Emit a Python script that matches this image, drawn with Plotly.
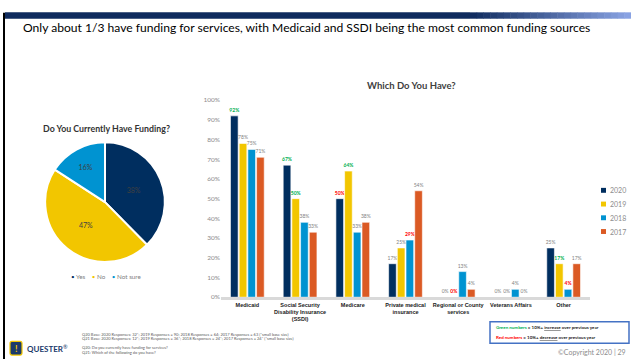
import plotly.graph_objects as go

# ---- data -------------------------------------------------------------
pie_labels = ["Yes", "No", "Not sure"]
pie_values = [38, 47, 16]

categories = [
    "Medicaid",
    "Social Security<br>Disability Insurance<br>(SSDI)",
    "Medicare",
    "Private medical<br>insurance",
    "Regional or County<br>services",
    "Veterans Affairs",
    "Other",
]
years = ["2020", "2019", "2018", "2017"]
v2020 = [92, 67, 50, 17, 0, 0, 25]
v2019 = [78, 50, 64, 25, 0, 0, 17]
v2018 = [75, 38, 33, 29, 13, 4, 4]
v2017 = [71, 33, 38, 54, 4, 0, 17]
# label flags: "g" = 10%+ increase, "r" = 10%+ decrease, "" = plain
f2020 = ["g", "g", "r", "", "", "", ""]
f2019 = ["", "g", "g", "", "r", "", "g"]
f2018 = ["", "", "", "r", "", "", "r"]
f2017 = ["", "", "", "", "", "", ""]

y_ticks = list(range(0, 101, 10))

# ---- styling ----------------------------------------------------------
W, H = 631, 362
NAVY, YELLOW, BLUE, ORANGE = "#002E5F", "#F2C600", "#0093D1", "#DB5A24"
GRAY = "#7F7F7F"
FLAG_COLORS = {"g": "#00B050", "r": "#FF0000", "": GRAY}
FONT = "Lato, Liberation Sans, sans-serif"


def px(x):
    return x / W


def py(y):
    return 1 - y / H


def note(x, y, text, size, color, anchor="center", **extra):
    """Paper-positioned text given in pixel coordinates."""
    return dict(x=px(x), y=py(y), xref="paper", yref="paper",
                xanchor=anchor, yanchor="middle", showarrow=False,
                text=text, font=dict(size=size, color=color, family=FONT), **extra)


fig = go.Figure()

# pie: do you currently have funding?
fig.add_trace(go.Pie(
    labels=pie_labels,
    values=pie_values,
    text=[f"{v}%" for v in pie_values],
    textinfo="text",
    sort=False,
    direction="clockwise",
    rotation=0,
    marker=dict(colors=[NAVY, YELLOW, BLUE], line=dict(color="white", width=2)),
    textfont=dict(size=7, color="#404040", family=FONT),
    insidetextorientation="horizontal",
    domain=dict(x=[px(44), px(166)], y=[py(263), py(141)]),
    showlegend=False,
    hoverinfo="label+percent",
))

# grouped bars: which do you have?
series = [
    (years[0], v2020, f2020, NAVY),
    (years[1], v2019, f2019, YELLOW),
    (years[2], v2018, f2018, BLUE),
    (years[3], v2017, f2017, ORANGE),
]
for name, vals, flags, color in series:
    fig.add_trace(go.Bar(
        x=categories,
        y=vals,
        name=name,
        marker=dict(color=color, line=dict(color="white", width=0.6)),
        text=[f"<b>{v}%</b>" if f else f"{v}%" for v, f in zip(vals, flags)],
        textposition="outside",
        textfont=dict(size=5, color=[FLAG_COLORS[f] for f in flags], family=FONT),
        constraintext="none",
        cliponaxis=False,
        showlegend=False,
    ))

fig.update_layout(
    width=W, height=H,
    margin=dict(l=0, r=0, t=0, b=0),
    paper_bgcolor="white", plot_bgcolor="white",
    barmode="group", bargap=0.34, bargroupgap=0.12,
    font=dict(family=FONT),
    xaxis=dict(
        domain=[px(221), px(590)],
        showline=True, linecolor="#D9D9D9", linewidth=2.5,
        showgrid=False, ticks="", fixedrange=True,
        tickfont=dict(size=5.5, color="#1A1A1A", family="Liberation Sans, Arial, sans-serif", weight="bold"),
    ),
    yaxis=dict(
        domain=[py(299), py(98)],
        range=[0, 100],
        tickvals=y_ticks,
        ticktext=[f"{t}%" for t in y_ticks],
        showgrid=False, zeroline=False, showline=False, ticks="",
        tickfont=dict(size=6.5, color="#8C8C8C", family=FONT),
        fixedrange=True,
    ),
)

shapes = []
annotations = []

# header band: navy fading into light blue towards the right edge
steps = 24
x_start, x_fade = 5, 470
shapes.append(dict(type="rect", xref="paper", yref="paper",
                   x0=px(x_start), x1=px(x_fade), y0=py(15), y1=py(8.5),
                   fillcolor="#0F2B5E", line=dict(width=0)))
c0, c1 = (15, 43, 94), (140, 165, 230)
seg = (W - x_fade) / steps
for i in range(steps):
    t = (i + 0.5) / steps
    col = tuple(int(c0[k] + (c1[k] - c0[k]) * t) for k in range(3))
    shapes.append(dict(type="rect", xref="paper", yref="paper",
                       x0=px(x_fade + i * seg), x1=px(x_fade + (i + 1) * seg + 0.5),
                       y0=py(15), y1=py(8.5),
                       fillcolor="rgb(%d,%d,%d)" % col, line=dict(width=0)))
# left edge rule
shapes.append(dict(type="line", xref="paper", yref="paper",
                   x0=px(4), x1=px(4), y0=py(9), y1=py(362),
                   line=dict(color="black", width=2)))

annotations.append(note(
    21, 24,
    "Only about 1/3 have funding for services, with Medicaid and SSDI being the most common funding sources",
    12.1, "black", anchor="left"))

# chart titles
annotations.append(note(106, 127, "<b>Do You Currently Have Funding?</b>", 8.8, "#333333"))
annotations.append(note(411, 83, "<b>Which Do You Have?</b>", 9.5, "#404040"))

# pie legend
pie_leg = "    ".join(
    f"<span style='color:{c}'>•</span> {lab}"
    for c, lab in zip([NAVY, YELLOW, BLUE], pie_labels))
annotations.append(note(106, 278, pie_leg, 6.3, "#7F7F7F"))

# bar legend
for i, (name, _, _, color) in enumerate(series):
    yc = 190 + i * 14
    shapes.append(dict(type="rect", xref="paper", yref="paper",
                       x0=px(601), x1=px(606), y0=py(yc + 2.5), y1=py(yc - 2.5),
                       fillcolor=color, line=dict(width=0)))
    annotations.append(note(608, yc, name, 7, "#8C8C8C", anchor="left"))

# colour key box
shapes.append(dict(type="rect", xref="paper", yref="paper",
                   x0=px(490), x1=px(629), y0=py(346), y1=py(324),
                   line=dict(color="#4472C4", width=1.5), fillcolor="white"))
annotations.append(note(
    494, 330,
    "<b><span style='color:#00B050'>Green numbers</span> = 10%+ "
    "<span style='text-decoration:underline'>increase</span> over previous year</b>",
    4.5, "#1A1A1A", anchor="left"))
annotations.append(note(
    494, 340,
    "<b><span style='color:#FF0000'>Red numbers</span> = 10%+ "
    "<span style='text-decoration:underline'>decrease</span> over previous year</b>",
    4.5, "#1A1A1A", anchor="left"))

annotations.append(note(628, 355, "©Copyright 2020 | 29", 7, "#8C8C8C", anchor="right"))

# base-size footnotes
notes = [
    (337, "Q20 Base: 2020 Responses: 32*; 2019 Responses = 90; 2018 Responses = 64; 2017 Responses = 63 (*small base size)"),
    (341, "Q21 Base: 2020 Responses: 12*; 2019 Responses = 36*; 2018 Responses = 24*; 2017 Responses = 24* (*small base size)"),
    (350, "Q20: Do you currently have funding for services?"),
    (355, "Q21: Which of the following do you have?"),
]
for yy, txt in notes:
    annotations.append(note(80, yy, txt, 4, "#595959", anchor="left"))

# logo
shapes.append(dict(type="path", xref="paper", yref="paper",
                   path=" ".join([
                       f"M {px(12)} {py(344)}", f"L {px(20)} {py(344)}",
                       f"Q {px(22)} {py(344)} {px(22)} {py(346)}",
                       f"L {px(22)} {py(356)}", f"Q {px(22)} {py(358)} {px(20)} {py(358)}",
                       f"L {px(12)} {py(358)}", f"Q {px(10)} {py(358)} {px(10)} {py(356)}",
                       f"L {px(10)} {py(346)}", f"Q {px(10)} {py(344)} {px(12)} {py(344)} Z"]),
                   fillcolor="#1B3A6B", line=dict(color=YELLOW, width=1.2)))
annotations.append(note(16, 351, "<b>!</b>", 9, YELLOW))
annotations.append(note(25, 351, "<b>QUESTER</b><sup>®</sup>", 8, "#1B3A6B", anchor="left"))

fig.update_layout(shapes=shapes, annotations=annotations)

fig.write_html("out.html")
